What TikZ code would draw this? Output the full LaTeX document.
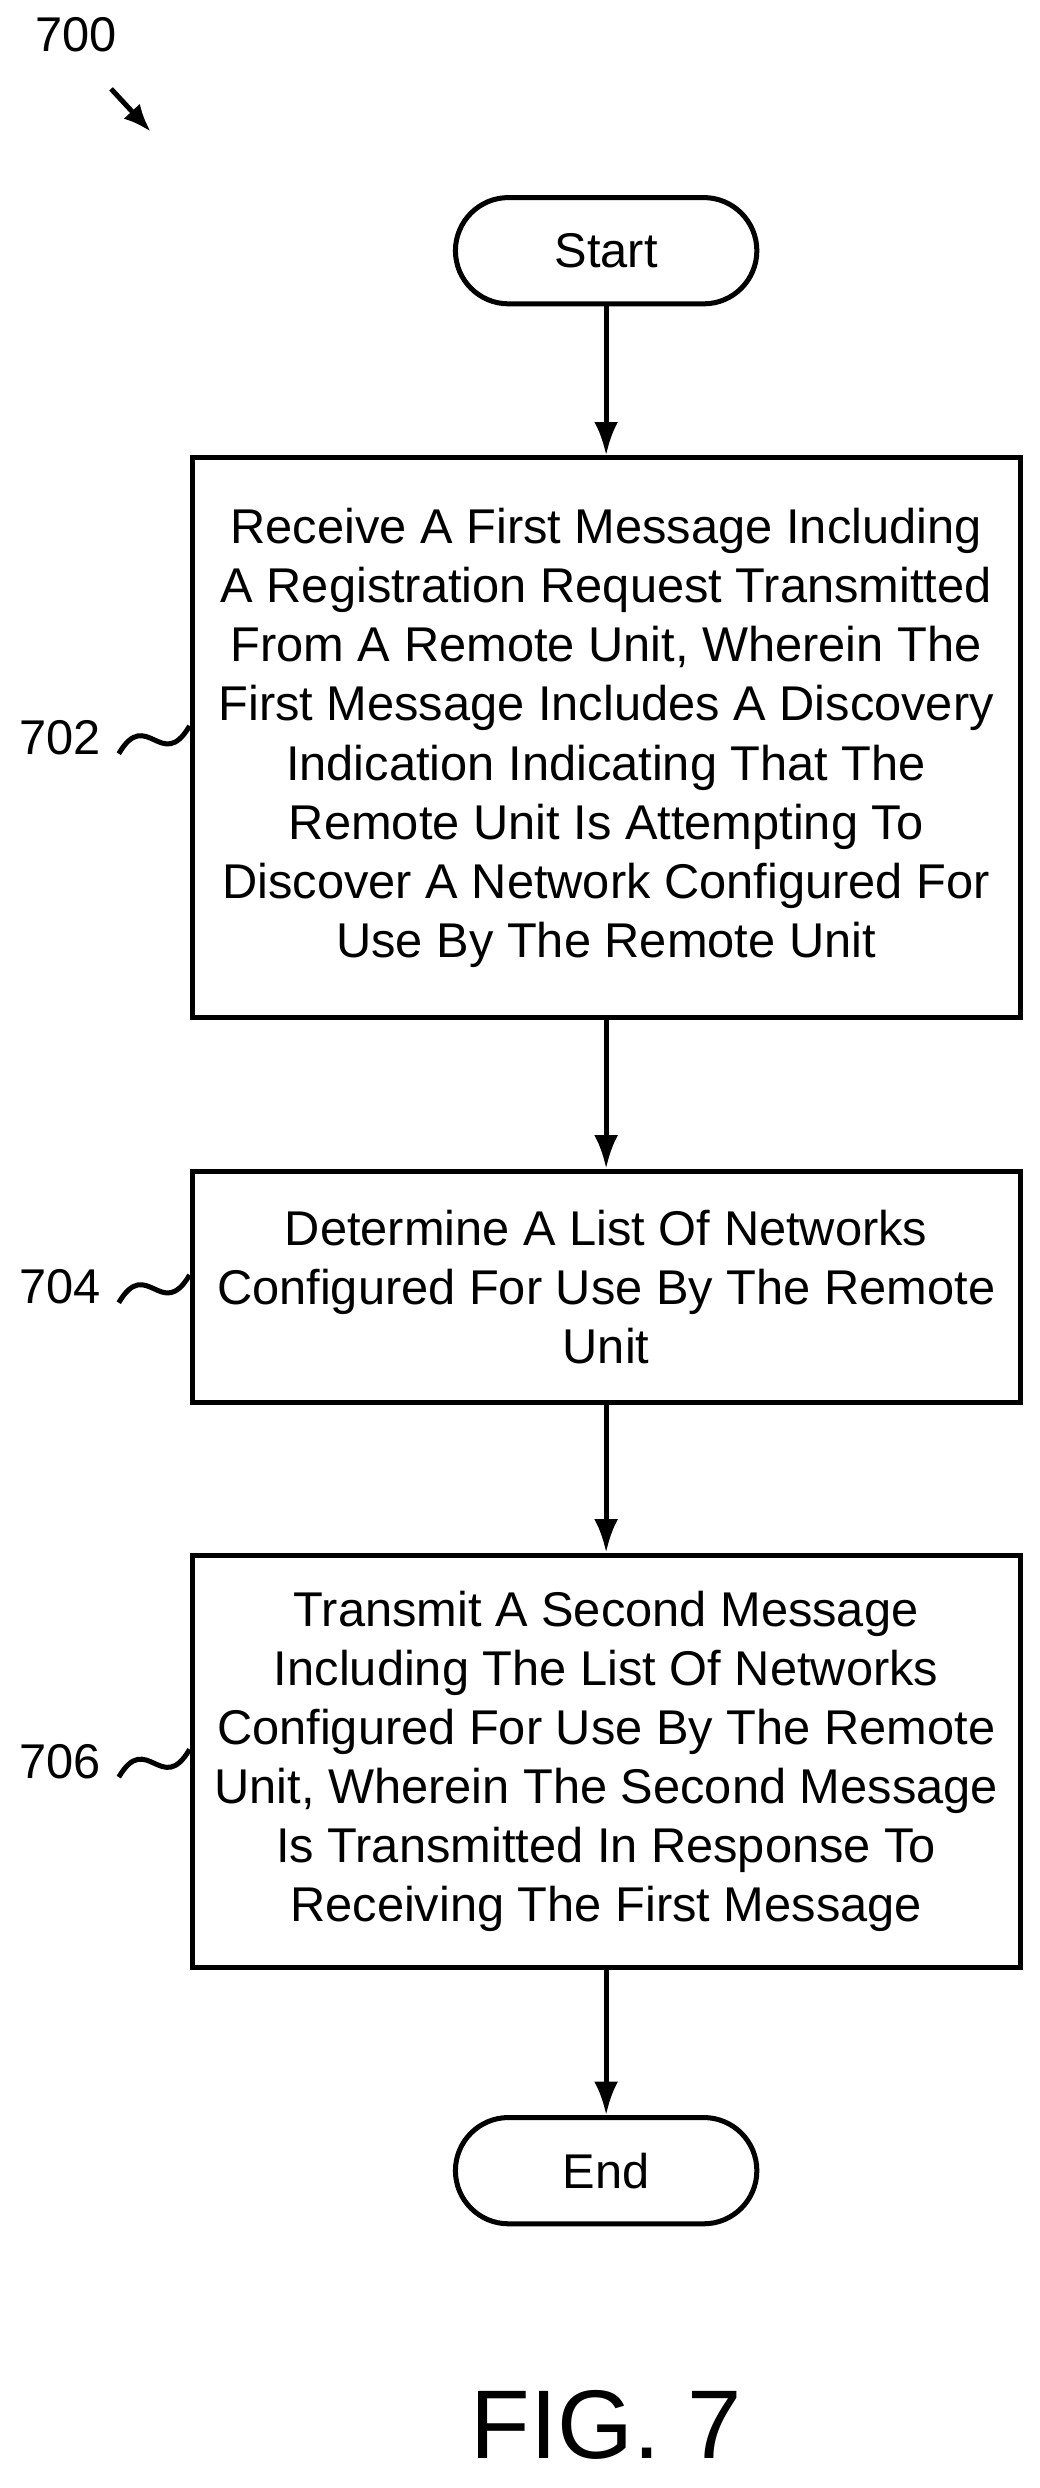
\documentclass[tikz,border=0pt]{standalone}
\usepackage{fontspec}
\setmainfont{Liberation Sans}
\usetikzlibrary{positioning,arrows.meta}
\tikzset{
  stepbox/.style={draw=black, line width=1.8pt, minimum width=10.44cm, align=center,
    font=\fontsize{17.5}{21.2}\selectfont, inner sep=0pt},
  term/.style={draw=black, line width=1.8pt, rounded corners=0.67cm, minimum width=3.8cm,
    minimum height=1.34cm, font=\fontsize{17.5}{21.2}\selectfont},
  flow/.style={-{Latex[length=0.42cm,width=0.3cm]}, line width=1.8pt},
  tag/.style={font=\fontsize{17.5}{21.2}\selectfont},
}
\begin{document}
\begin{tikzpicture}[x=0.02cm, y=-0.02cm]
  \useasboundingbox (0,0) rectangle (655,1568);
  % nodes
  \node [tag] (fig) at (48,22) {700};
  \coordinate (figa) at (70,56);
  \coordinate (figb) at (95,83);
  \node [term] (start) at (382,158) {Start};
  \node [stepbox, minimum height=7.06cm] (s702) at (382,465) {Receive A First Message Including\\
    A Registration Request Transmitted\\ From A Remote Unit, Wherein The\\
    First Message Includes A Discovery\\ Indication Indicating That The\\
    Remote Unit Is Attempting To\\ Discover A Network Configured For\\ Use By The Remote Unit};
  \node [stepbox, minimum height=2.92cm] (s704) at (382,811) {Determine A List Of Networks\\
    Configured For Use By The Remote\\ Unit};
  \node [stepbox, minimum height=5.2cm] (s706) at (382,1110) {Transmit A Second Message\\
    Including The List Of Networks\\ Configured For Use By The Remote\\
    Unit, Wherein The Second Message\\ Is Transmitted In Response To\\ Receiving The First Message};
  \node [term] (end) at (382,1368) {End};
  \node [font=\fontsize{35}{42}\selectfont] (cap) at (382,1528) {FIG. 7};
  \node [tag] (l702) at (38,465) {702};
  \node [tag] (l704) at (38,811) {704};
  \node [tag] (l706) at (38,1110) {706};
  % connectors
  \draw [-{Latex[length=0.35cm,width=0.28cm]}, line width=1.8pt] (figa) -- (figb);
  \draw [flow] (start) -- (s702);
  \draw [flow] (s702) -- (s704);
  \draw [flow] (s704) -- (s706);
  \draw [flow] (s706) -- (end);
  \foreach \n in {702,704,706}
    \draw [line width=1.8pt] ([xshift=0.1cm, yshift=-0.2cm]l\n.east)
      .. controls +(0.35cm,0.6cm) and +(-0.35cm,-0.6cm) .. ([yshift=0.15cm]s\n.west |- l\n.east);
\end{tikzpicture}
\end{document}
